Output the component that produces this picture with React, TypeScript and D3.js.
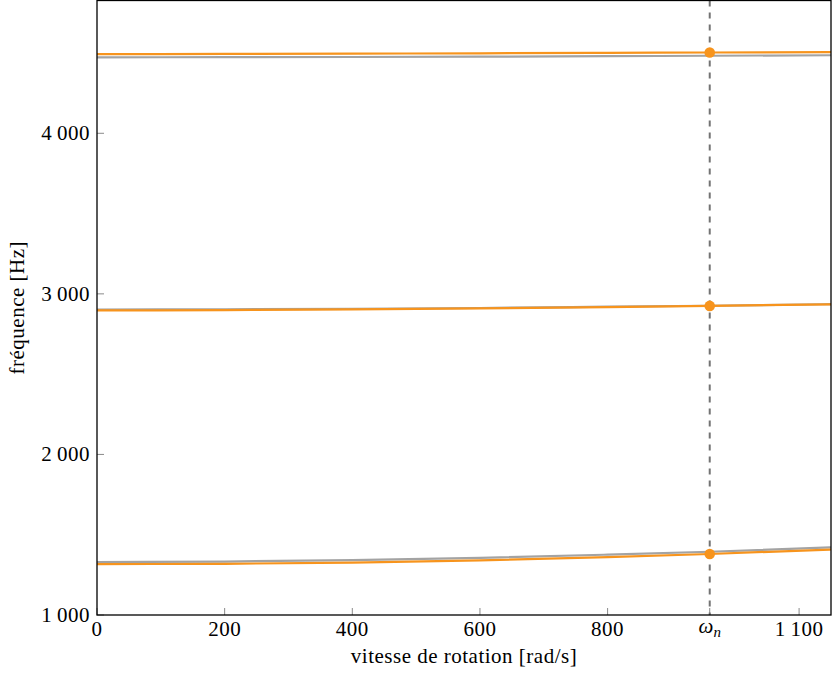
import React from "react";
import * as d3 from "d3";

const speeds = [0, 200, 400, 600, 800, 960, 1150];
const mode1Gray = [1330, 1333, 1342, 1356, 1376, 1394, 1421];
const mode1Orange = [1317, 1319, 1326, 1340, 1360, 1380, 1408];
const mode2Gray = [2902, 2904, 2907, 2912, 2920, 2926, 2936];
const mode2Orange = [2897, 2899, 2903, 2909, 2917, 2925, 2935];
const mode3Gray = [4473, 4474, 4475, 4477, 4480, 4483, 4486];
const mode3Orange = [4493, 4494, 4496, 4498, 4501, 4503, 4505];
const omegaN = 960;
const dotValues = [1380, 2925, 4503];
const xTicks = [0, 200, 400, 600, 800, 1100];
const yTicks = [1000, 2000, 3000, 4000];

const W = 832, H = 679;
const L = 97, R = 831, T = 0.5, B = 615;
const FONT = "'Liberation Serif', 'Times New Roman', serif";
const ORANGE = "#f7941d";
const GRAY = "#a3a3a3";
const FS = 21;
const LS = 0.5;

const fmt = (v: number) => {
  const s = String(v);
  return s.length > 3 ? s.slice(0, s.length - 3) + "\u2009" + s.slice(s.length - 3) : s;
};

export default function App() {
  const x = d3.scaleLinear().domain([0, 1150]).range([L, R]);
  const y = d3.scaleLinear().domain([1000, 4827]).range([B, T]);
  const line = d3
    .line<number>()
    .x((_, i) => x(speeds[i]))
    .y((d) => y(d))
    .curve(d3.curveMonotoneX);
  const series = [
    { v: mode1Gray, c: GRAY },
    { v: mode2Gray, c: GRAY },
    { v: mode3Gray, c: GRAY },
    { v: mode1Orange, c: ORANGE },
    { v: mode2Orange, c: ORANGE },
    { v: mode3Orange, c: ORANGE },
  ];
  return (
    <svg width={W} height={H} style={{ position: "absolute", left: 0, top: 0 }}>
      <rect x={0} y={0} width={W} height={H} fill="#fff" />
      <defs>
        <clipPath id="plot">
          <rect x={L} y={T} width={R - L} height={B - T} />
        </clipPath>
      </defs>
      {xTicks.map((t) => (
        <line key={"xt" + t} x1={x(t)} x2={x(t)} y1={B} y2={B - 7} stroke="#8a8a8a" strokeWidth={1} />
      ))}
      <line x1={x(omegaN)} x2={x(omegaN)} y1={B} y2={B - 7} stroke="#8a8a8a" strokeWidth={1} />
      {yTicks.map((t) => (
        <line key={"yt" + t} x1={L} x2={L + 7} y1={y(t)} y2={y(t)} stroke="#8a8a8a" strokeWidth={1} />
      ))}
      <g clipPath="url(#plot)">
        <line x1={x(omegaN)} x2={x(omegaN)} y1={T} y2={B} stroke="#737373" strokeWidth={2} strokeDasharray="6 6" />
        {series.map((s, i) => (
          <path key={i} d={line(s.v) || ""} fill="none" stroke={s.c} strokeWidth={2.2} />
        ))}
        {dotValues.map((v, i) => (
          <circle key={"d" + i} cx={x(omegaN)} cy={y(v)} r={5.3} fill={ORANGE} />
        ))}
      </g>
      <rect x={L} y={T} width={R - L} height={B - T} fill="none" stroke="#000" strokeWidth={1.3} />
      {xTicks.map((t) => (
        <text key={"xl" + t} x={x(t)} y={636} textAnchor="middle" fontFamily={FONT} fontSize={FS} letterSpacing={LS} fill="#000">
          {fmt(t)}
        </text>
      ))}
      <text x={x(omegaN)} y={633} textAnchor="middle" fontFamily={FONT} fontSize={FS} fill="#000">
        <tspan fontStyle="italic">ω</tspan>
        <tspan fontStyle="italic" fontSize={15} dy={4}>n</tspan>
      </text>
      {yTicks.map((t) => (
        <text key={"yl" + t} x={90} y={y(t) + 7} textAnchor="end" fontFamily={FONT} fontSize={FS} letterSpacing={LS} fill="#000">
          {fmt(t)}
        </text>
      ))}
      <text x={464} y={663} textAnchor="middle" fontFamily={FONT} fontSize={FS} letterSpacing={LS} fill="#000">
        vitesse de rotation [rad/s]
      </text>
      <text
        transform={`translate(24, ${(T + B) / 2}) rotate(-90)`}
        textAnchor="middle"
        fontFamily={FONT}
        fontSize={FS}
        letterSpacing={LS}
        fill="#000"
      >
        fréquence [Hz]
      </text>
    </svg>
  );
}
